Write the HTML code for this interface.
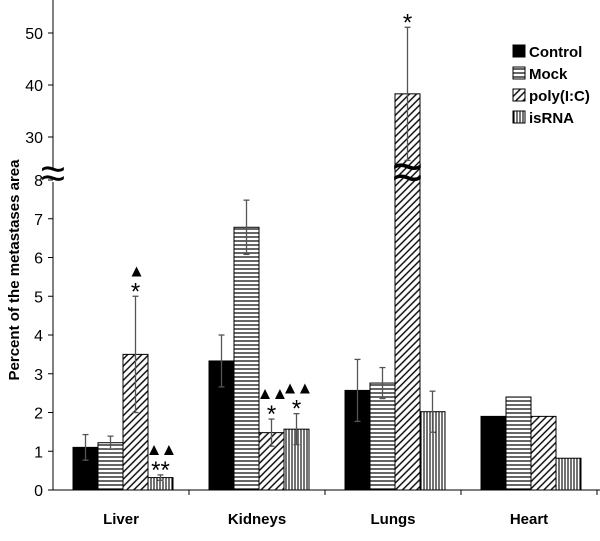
<!DOCTYPE html>
<html><head><meta charset="utf-8"><style>
html,body{margin:0;padding:0;background:#fff;}
svg text{font-family:"Liberation Sans",Arial,sans-serif;}
</style></head><body>
<svg id="chart" width="600" height="536" xmlns="http://www.w3.org/2000/svg">
<defs>
<pattern id="pMock" width="4" height="4" patternUnits="userSpaceOnUse"><rect width="4" height="4" fill="#fff"/><line x1="0" y1="1" x2="4" y2="1" stroke="#000" stroke-width="1.2"/></pattern>
<pattern id="pPoly" width="5" height="5" patternUnits="userSpaceOnUse" patternTransform="rotate(45)"><rect width="5" height="5" fill="#fff"/><line x1="1" y1="0" x2="1" y2="5" stroke="#000" stroke-width="1.4"/></pattern>
<pattern id="pIs" width="3" height="3" patternUnits="userSpaceOnUse"><rect width="3" height="3" fill="#fff"/><line x1="1" y1="0" x2="1" y2="3" stroke="#000" stroke-width="1.1"/></pattern>
</defs>
<g id="plot"></g>
</svg>
<script>
const categories = ["Liver","Kidneys","Lungs","Heart"];
const seriesNames = ["Control","Mock","poly(I:C)","isRNA"];
const control = [1.1, 3.33, 2.57, 1.9];
const mock = [1.22, 6.78, 2.76, 2.4];
const polyIC = [3.5, 1.48, 38.3, 1.9];
const isRNA = [0.32, 1.57, 2.02, 0.82];
const controlErr = [0.33, 0.67, 0.8, 0];
const mockErr = [0.17, 0.7, 0.4, 0];
const polyErr = [1.5, 0.35, 12.8, 0];
const isRNAErr = [0.07, 0.4, 0.53, 0];
const lowerTicks = [0,1,2,3,4,5,6,7,8];
const upperTicks = [30,40,50];
const annotations = [
  {cat:0, s:2, lines:["▲","*"]},
  {cat:0, s:3, lines:["▲▲","**"]},
  {cat:1, s:2, lines:["▲▲","*"]},
  {cat:1, s:3, lines:["▲▲","*"]},
  {cat:2, s:2, lines:["*"]}
];

const NS="http://www.w3.org/2000/svg";
const g=document.getElementById('plot');
function el(t,a,p){const e=document.createElementNS(NS,t);for(const k in a)e.setAttribute(k,a[k]);(p||g).appendChild(e);return e;}
function y(v){ if(v<=8) return 490 - v*38.75; return 137 - (v-30)*5.2; }
const x0=53, groupW=136, barW=25, groupPad=20;
function xBar(c,s){ return x0 + groupPad + c*groupW + s*barW; }
const fills=["#000","url(#pMock)","url(#pPoly)","url(#pIs)"];
const vals=[control,mock,polyIC,isRNA];
const errs=[controlErr,mockErr,polyErr,isRNAErr];

let a=el('line',{x1:x0,y1:0,x2:x0,y2:168,stroke:'#000','stroke-width':1});

a=el('line',{x1:x0,y1:182,x2:x0,y2:490,stroke:'#000','stroke-width':1});

a=el('line',{x1:x0,y1:490,x2:600,y2:490,stroke:'#000','stroke-width':1});

for(let i=1;i<=4;i++){const t=el('line',{x1:x0+i*groupW,y1:490,x2:x0+i*groupW,y2:495,stroke:'#000'});
}
lowerTicks.concat(upperTicks).forEach(v=>{
  const t=el('line',{x1:x0-5,y1:y(v),x2:x0,y2:y(v),stroke:'#000'});
  
  const l=el('text',{x:x0-10,y:y(v)+6,'text-anchor':'end','font-size':16,fill:'#000'});
  l.textContent=v;
  
});
let br=el('text',{x:x0,y:188,'text-anchor':'middle','font-size':44,fill:'#000','font-family':'DejaVu Sans'});
br.textContent='≈';


categories.forEach((c,ci)=>{
  vals.forEach((arr,si)=>{
    const v=arr[ci], bx=xBar(ci,si);
    const r=el('rect',{x:bx,y:y(v),width:barW,height:490-y(v),fill:fills[si],stroke:'#000','stroke-width':1});
    
    
    const e=errs[si][ci];
    if(e>0){
      const cx=bx+barW/2;
      const eg=el('g',{stroke:'#555','stroke-width':1.3});
      
      
      el('line',{x1:cx,y1:y(v+e),x2:cx,y2:y(v-e)},eg);
      el('line',{x1:cx-3,y1:y(v+e),x2:cx+3,y2:y(v+e)},eg);
      el('line',{x1:cx-3,y1:y(v-e),x2:cx+3,y2:y(v-e)},eg);
    }
  });
  const l=el('text',{x:x0+ci*groupW+groupW/2,y:524,'text-anchor':'middle','font-size':15,'font-weight':'bold',fill:'#000'});
  l.textContent=c;
  
});
const lb=xBar(2,2);
br=el('text',{x:lb+barW/2,y:190,'text-anchor':'middle','font-size':54,fill:'#000','font-family':'DejaVu Sans'});
br.textContent='≈';


annotations.forEach(an=>{
  const v=vals[an.s][an.cat]+errs[an.s][an.cat];
  const cx=xBar(an.cat,an.s)+barW/2;
  let yy=y(v)-6;
  for(let i=an.lines.length-1;i>=0;i--){
    const star=an.lines[i].includes('*');
    const t=el('text',{x:cx,y:yy+(star?9:0),'text-anchor':'middle','font-size':star?24:17,fill:'#000','letter-spacing':star?0:-2});
    t.textContent=an.lines[i];
    
    yy-=star?14:18;
  }
});

let yt=el('text',{transform:'translate(19,270) rotate(-90)','text-anchor':'middle','font-size':15,'font-weight':'bold',fill:'#000'});
yt.textContent='Percent of the metastases area';


seriesNames.forEach((n,i)=>{
  const ly=45+i*22;
  const lg=el('g',{});
  
  
  el('rect',{x:513,y:ly,width:12,height:12,fill:fills[i],stroke:'#000'},lg);
  const t=el('text',{x:529,y:ly+12,'font-size':15,'font-weight':'bold',fill:'#000'},lg);
  t.textContent=n;
});
</script>
</body></html>
